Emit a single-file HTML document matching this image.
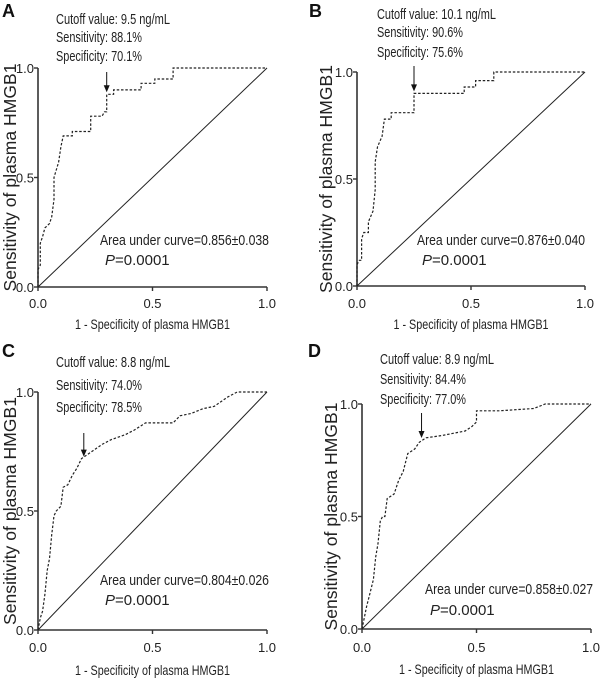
<!DOCTYPE html>
<html><head><meta charset="utf-8"><style>
html,body{margin:0;padding:0;background:#fff;}
svg{display:block;font-family:"Liberation Sans",Arial,sans-serif;}
</style></head><body>
<svg id="fig" width="600" height="684" viewBox="0 0 600 684" xmlns="http://www.w3.org/2000/svg"></svg>
<script>
const ticks=[0,0.5,1];
const tickLabels=["0.0","0.5","1.0"];
const aFpr=[0,0,0.01,0.01,0.02,0.03,0.05,0.06,0.07,0.07,0.09,0.1,0.11,0.15,0.15,0.23,0.23,0.28,0.29,0.3,0.3,0.33,0.33,0.45,0.45,0.51,0.51,0.59,0.59,1];
const aTpr=[0,0.08,0.1,0.2,0.23,0.27,0.29,0.32,0.4,0.5,0.57,0.64,0.69,0.69,0.71,0.71,0.78,0.78,0.8,0.8,0.88,0.88,0.9,0.9,0.93,0.93,0.95,0.95,1,1];
const bFpr=[0,0,0.01,0.02,0.02,0.03,0.05,0.05,0.07,0.08,0.08,0.09,0.11,0.12,0.15,0.15,0.25,0.25,0.47,0.47,0.52,0.52,0.6,0.6,1];
const bTpr=[0,0.1,0.12,0.12,0.22,0.25,0.25,0.3,0.35,0.45,0.58,0.65,0.7,0.78,0.78,0.81,0.81,0.9,0.9,0.93,0.93,0.96,0.96,1,1];
const cFpr=[0,0.01,0.02,0.03,0.04,0.05,0.06,0.07,0.08,0.1,0.11,0.13,0.15,0.17,0.19,0.22,0.25,0.28,0.32,0.38,0.42,0.47,0.59,0.62,0.67,0.72,0.77,0.8,0.83,0.87,1];
const cTpr=[0,0.05,0.08,0.15,0.25,0.3,0.4,0.48,0.5,0.52,0.6,0.61,0.65,0.68,0.72,0.74,0.76,0.78,0.8,0.82,0.84,0.87,0.87,0.9,0.91,0.93,0.94,0.96,0.98,1,1];
const dFpr=[0,0.01,0.02,0.03,0.05,0.06,0.07,0.08,0.09,0.1,0.11,0.14,0.16,0.18,0.2,0.23,0.25,0.28,0.35,0.45,0.48,0.5,0.5,0.6,0.75,0.8,1];
const dTpr=[0,0.05,0.1,0.14,0.22,0.32,0.38,0.48,0.5,0.5,0.58,0.6,0.66,0.7,0.78,0.8,0.83,0.85,0.86,0.88,0.9,0.92,0.97,0.97,0.98,1,1];
const cutFpr=[0.3,0.25,0.2,0.26];
const cutTpr=[0.88,0.9,0.72,0.84];
const panelLetters=["A","B","C","D"];
const cutoffTexts=["Cutoff value: 9.5 ng/mL","Cutoff value: 10.1 ng/mL","Cutoff value: 8.8 ng/mL","Cutoff value: 8.9 ng/mL"];
const sensTexts=["Sensitivity: 88.1%","Sensitivity: 90.6%","Sensitivity: 74.0%","Sensitivity: 84.4%"];
const specTexts=["Specificity: 70.1%","Specificity: 75.6%","Specificity: 78.5%","Specificity: 77.0%"];
const aucTexts=["Area under curve=0.856±0.038","Area under curve=0.876±0.040","Area under curve=0.804±0.026","Area under curve=0.858±0.027"];

const NS="http://www.w3.org/2000/svg";
const svg=document.getElementById('fig');
function mk(tag,attrs,parent){const e=document.createElementNS(NS,tag);for(const k in attrs)e.setAttribute(k,attrs[k]);(parent||svg).appendChild(e);return e;}
function txt(s,attrs,parent){const e=mk('text',attrs,parent);e.textContent=s;return e;}

const layouts=[
 {x0:38,x1:267,yT:68,yB:287,lx:2,ly:17,ax:56,ab:[24,42,61],aucx:100,aucw:169,aucb:245,pb:265,tickb:308,titleb:329,arTop:72,ttx:16},
 {x0:357,x1:585,yT:72,yB:286,lx:309,ly:17,ax:377,ab:[19,37,57],aucx:417,aucw:168,aucb:245,pb:265,tickb:308,titleb:329,arTop:66,ttx:332},
 {x0:38,x1:267,yT:392,yB:630,lx:2,ly:357,ax:56,ab:[367,390,412],aucx:100,aucw:169,aucb:585,pb:605,tickb:652,titleb:675,arTop:433,ttx:16},
 {x0:362,x1:591,yT:404,yB:629,lx:308,ly:357,ax:380,ab:[364,384,404],aucx:425,aucw:168,aucb:594,pb:615,tickb:652,titleb:674,arTop:413,ttx:337}
];
const fprs=[aFpr,bFpr,cFpr,dFpr], tprs=[aTpr,bTpr,cTpr,dTpr];

layouts.forEach((L,i)=>{
  const g=mk('g',{});
  
  
  const X=v=>L.x0+v*(L.x1-L.x0);
  const Y=v=>L.yB-v*(L.yB-L.yT);
  const lab=txt(panelLetters[i],{x:L.lx,y:L.ly,'font-size':18,'font-weight':'bold',fill:'#111'},g);
  
  
  const xa=mk('line',{x1:L.x0,y1:L.yB,x2:L.x1,y2:L.yB,stroke:'#333','stroke-width':1.6},g);
  
  
  const ya=mk('line',{x1:L.x0,y1:L.yT,x2:L.x0,y2:L.yB,stroke:'#333','stroke-width':1.6},g);
  
  
  ticks.forEach((t,k)=>{
    mk('line',{x1:X(t),y1:L.yB,x2:X(t),y2:L.yB+4,stroke:'#333','stroke-width':1.4},g);
    mk('line',{x1:L.x0-4,y1:Y(t),x2:L.x0,y2:Y(t),stroke:'#333','stroke-width':1.4},g);
    const xt=txt(tickLabels[k],{x:X(t),y:L.tickb,'font-size':13,'text-anchor':'middle',fill:'#222'},g);
    
    
    const yt=txt(tickLabels[k],{x:L.x0-4,y:Y(t)+5,'font-size':13,'text-anchor':'end',fill:'#222'},g);
    
    
  });
  const xtl=txt("1 - Specificity of plasma HMGB1",{x:(L.x0+L.x1)/2,y:L.titleb,'font-size':14,'text-anchor':'middle',fill:'#222',textLength:155,lengthAdjust:'spacingAndGlyphs'},g);
  
  
  const cy=(L.yT+L.yB)/2;
  const ytl=txt("Sensitivity of plasma HMGB1",{x:0,y:0,'font-size':17.5,'text-anchor':'middle',fill:'#222',textLength:228,lengthAdjust:'spacing',transform:`translate(${L.ttx},${cy}) rotate(-90)`},g);
  
  
  const dg=mk('line',{x1:X(0),y1:Y(0),x2:X(1),y2:Y(1),stroke:'#222','stroke-width':1},g);
  
  
  const f=fprs[i],t=tprs[i];
  let d='';
  for(let k=0;k<f.length;k++){d+=(k?'L':'M')+X(f[k]).toFixed(1)+','+Y(t[k]).toFixed(1);}
  const pth=mk('path',{d:d,fill:'none',stroke:'#222','stroke-width':1.2,'stroke-dasharray':'2.5,1.8'},g);
  
  
  const axp=X(cutFpr[i]), ayp=Y(cutTpr[i])-2;
  mk('line',{x1:axp,y1:L.arTop,x2:axp,y2:ayp-5,stroke:'#111','stroke-width':1},g);
  const ah=mk('path',{d:`M${axp-3},${ayp-7}L${axp+3},${ayp-7}L${axp},${ayp}Z`,fill:'#111'},g);
  
  
  [cutoffTexts[i],sensTexts[i],specTexts[i]].forEach((s,k)=>{
    const w=[114,86,86][k]+(k===0&&i===1?5:0);
    const a=txt(s,{x:L.ax,y:L.ab[k],'font-size':14.5,fill:'#222',textLength:w,lengthAdjust:'spacingAndGlyphs'},g);
    
    
  });
  const au=txt(aucTexts[i],{x:L.aucx,y:L.aucb,'font-size':15,fill:'#222',textLength:L.aucw,lengthAdjust:'spacingAndGlyphs'},g);
  
  
  const p=mk('text',{x:L.aucx+5,y:L.pb,'font-size':15,fill:'#222'},g);
  p.innerHTML='<tspan font-style="italic">P</tspan>=0.0001';
  
  
});
</script>
</body></html>
